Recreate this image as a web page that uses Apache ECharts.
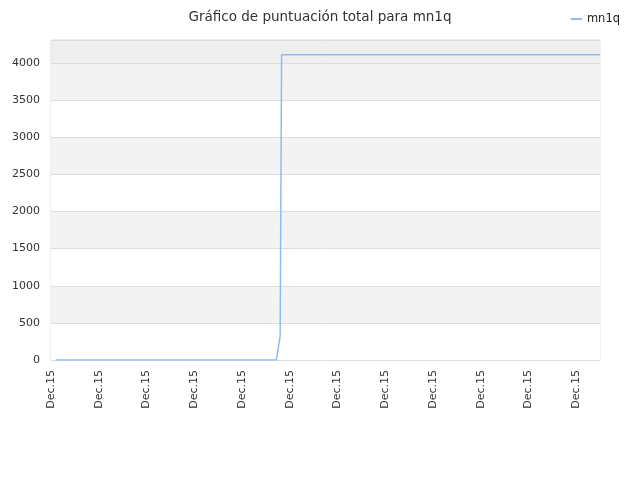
<!DOCTYPE html>
<html>
<head>
    <meta charset="utf-8">
    <title>Gráfico de puntuación total</title>
    <script src="https://cdn.jsdelivr.net/npm/echarts@6/dist/echarts.min.js"></script>
</head>
<body style="margin:0;">
<div id="main" style="width:640px;height:480px;"></div>
<script type="text/javascript">

    // posicion en el eje x (indice de fecha) y puntuacion
    var puntos = [1, 47.2, 48, 48.3, 115];
    var puntuacion = [0, 0, 320, 4110, 4110];
    var etiqueta = 'Dec.15';
    var serie = 'mn1q';

    var datos = [];
    for (var i = 0; i < puntos.length; i++) {
        datos.push([puntos[i], puntuacion[i]]);
    }

    var myChart = echarts.init(document.getElementById('main'));

    var option = {
        animation: false,
        title: {
            text: 'Gráfico de puntuación total para mn1q',
            left: 'center',
            top: 5,
            textStyle: {
                color: '#333',
                fontSize: 13.5,
                fontWeight: 'normal',
                fontFamily: 'DejaVu Sans'
            }
        },
        legend: {
            right: 15,
            top: 8,
            itemWidth: 11,
            itemHeight: 2,
            itemGap: 5,
            icon: 'rect',
            textStyle: {fontSize: 11.5, color: '#222', fontFamily: 'DejaVu Sans'},
            data: [serie]
        },
        grid: {
            left: 51,
            right: 40,
            top: 40,
            bottom: 120,
            show: true,
            borderColor: '#ddd',
            borderWidth: 1
        },
        xAxis: {
            type: 'value',
            min: 0,
            max: 115,
            interval: 10,
            axisLine: {show: false},
            axisTick: {show: false},
            splitLine: {show: false},
            axisLabel: {
                rotate: 90,
                color: '#333',
                fontSize: 11,
                fontFamily: 'DejaVu Sans',
                margin: 10,
                showMaxLabel: false,
                formatter: function () { return etiqueta; }
            }
        },
        yAxis: {
            type: 'value',
            min: 0,
            max: 4310,
            interval: 500,
            axisLine: {show: false},
            axisTick: {show: false},
            axisLabel: {
                color: '#333',
                fontSize: 11,
                fontFamily: 'DejaVu Sans',
                margin: 11,
                showMaxLabel: false,
                formatter: function (v) { return String(v); }
            },
            splitLine: {lineStyle: {color: '#ddd'}},
            splitArea: {
                show: true,
                areaStyle: {
                    color: ['#ffffff', '#f3f3f3', '#ffffff', '#f3f3f3', '#ffffff',
                            '#f3f3f3', '#ffffff', '#f3f3f3', '#eeeeee']
                }
            }
        },
        series: [{
            name: serie,
            type: 'line',
            data: datos,
            symbol: 'none',
            color: '#8dbdf0',
            lineStyle: {width: 1.5}
        }]
    };

    myChart.setOption(option);
</script>
</body>
</html>
